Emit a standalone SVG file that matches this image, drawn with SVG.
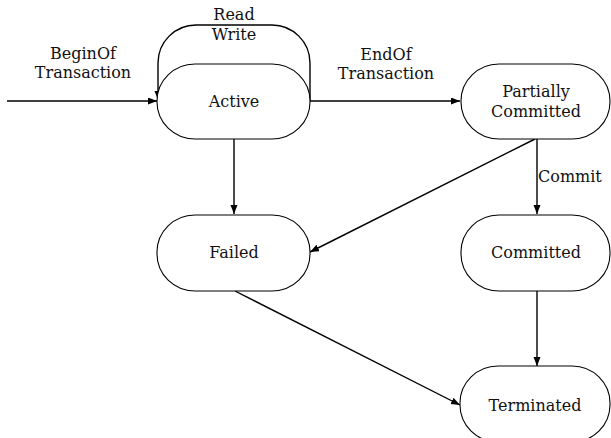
<svg xmlns="http://www.w3.org/2000/svg" width="611" height="438" viewBox="0 0 611 438">
<style>
.node{fill:#fff;stroke:#000;stroke-width:1.1}
.edge{fill:none;stroke:#000;stroke-width:1.4}
text{font-family:"DejaVu Serif","Liberation Serif",serif;font-size:16px;fill:#111;text-anchor:middle}
</style>
<defs>
<marker id="ah" markerUnits="userSpaceOnUse" markerWidth="10" markerHeight="8" refX="9" refY="3.5" orient="auto">
<path d="M0,0 L9,3.5 L0,7 z" fill="#000"/>
</marker>
</defs>
<rect width="611" height="438" fill="#fff"/>
<g id="connectors">
<path class="edge" d="M7,101 H157" marker-end="url(#ah)"/>
<path class="edge" d="M310,101 V63 A38,38 0 0 0 272,25 H196 A38,38 0 0 0 158,63 V100" marker-end="url(#ah)"/>
<path class="edge" d="M310,101 H460" marker-end="url(#ah)"/>
<path class="edge" d="M234,139 V214" marker-end="url(#ah)"/>
<path class="edge" d="M537,139 V214" marker-end="url(#ah)"/>
<path class="edge" d="M535,139 L310,252" marker-end="url(#ah)"/>
<path class="edge" d="M537,291 V366" marker-end="url(#ah)"/>
<path class="edge" d="M235,291 L460,405" marker-end="url(#ah)"/>
<text x="83" y="59">BeginOf</text>
<text x="83" y="78">Transaction</text>
<text x="234" y="20">Read</text>
<text x="234" y="40">Write</text>
<text x="386" y="60">EndOf</text>
<text x="386" y="79">Transaction</text>
<text x="538" y="182" style="text-anchor:start">Commit</text>
</g>
<g id="active">
<rect class="node" x="157" y="64" width="153" height="75" rx="38" ry="37"/>
<text x="234" y="107">Active</text>
</g>
<g id="partially-committed">
<rect class="node" x="461" y="64" width="149" height="75" rx="38" ry="37"/>
<text x="536" y="97">Partially</text>
<text x="536" y="117">Committed</text>
</g>
<g id="failed">
<rect class="node" x="157" y="215" width="153" height="76" rx="38" ry="37"/>
<text x="234" y="258">Failed</text>
</g>
<g id="committed">
<rect class="node" x="461" y="215" width="149" height="76" rx="38" ry="37"/>
<text x="536" y="258">Committed</text>
</g>
<g id="terminated">
<rect class="node" x="460" y="366" width="150" height="76" rx="38" ry="37"/>
<text x="535" y="411">Terminated</text>
</g>
</svg>
